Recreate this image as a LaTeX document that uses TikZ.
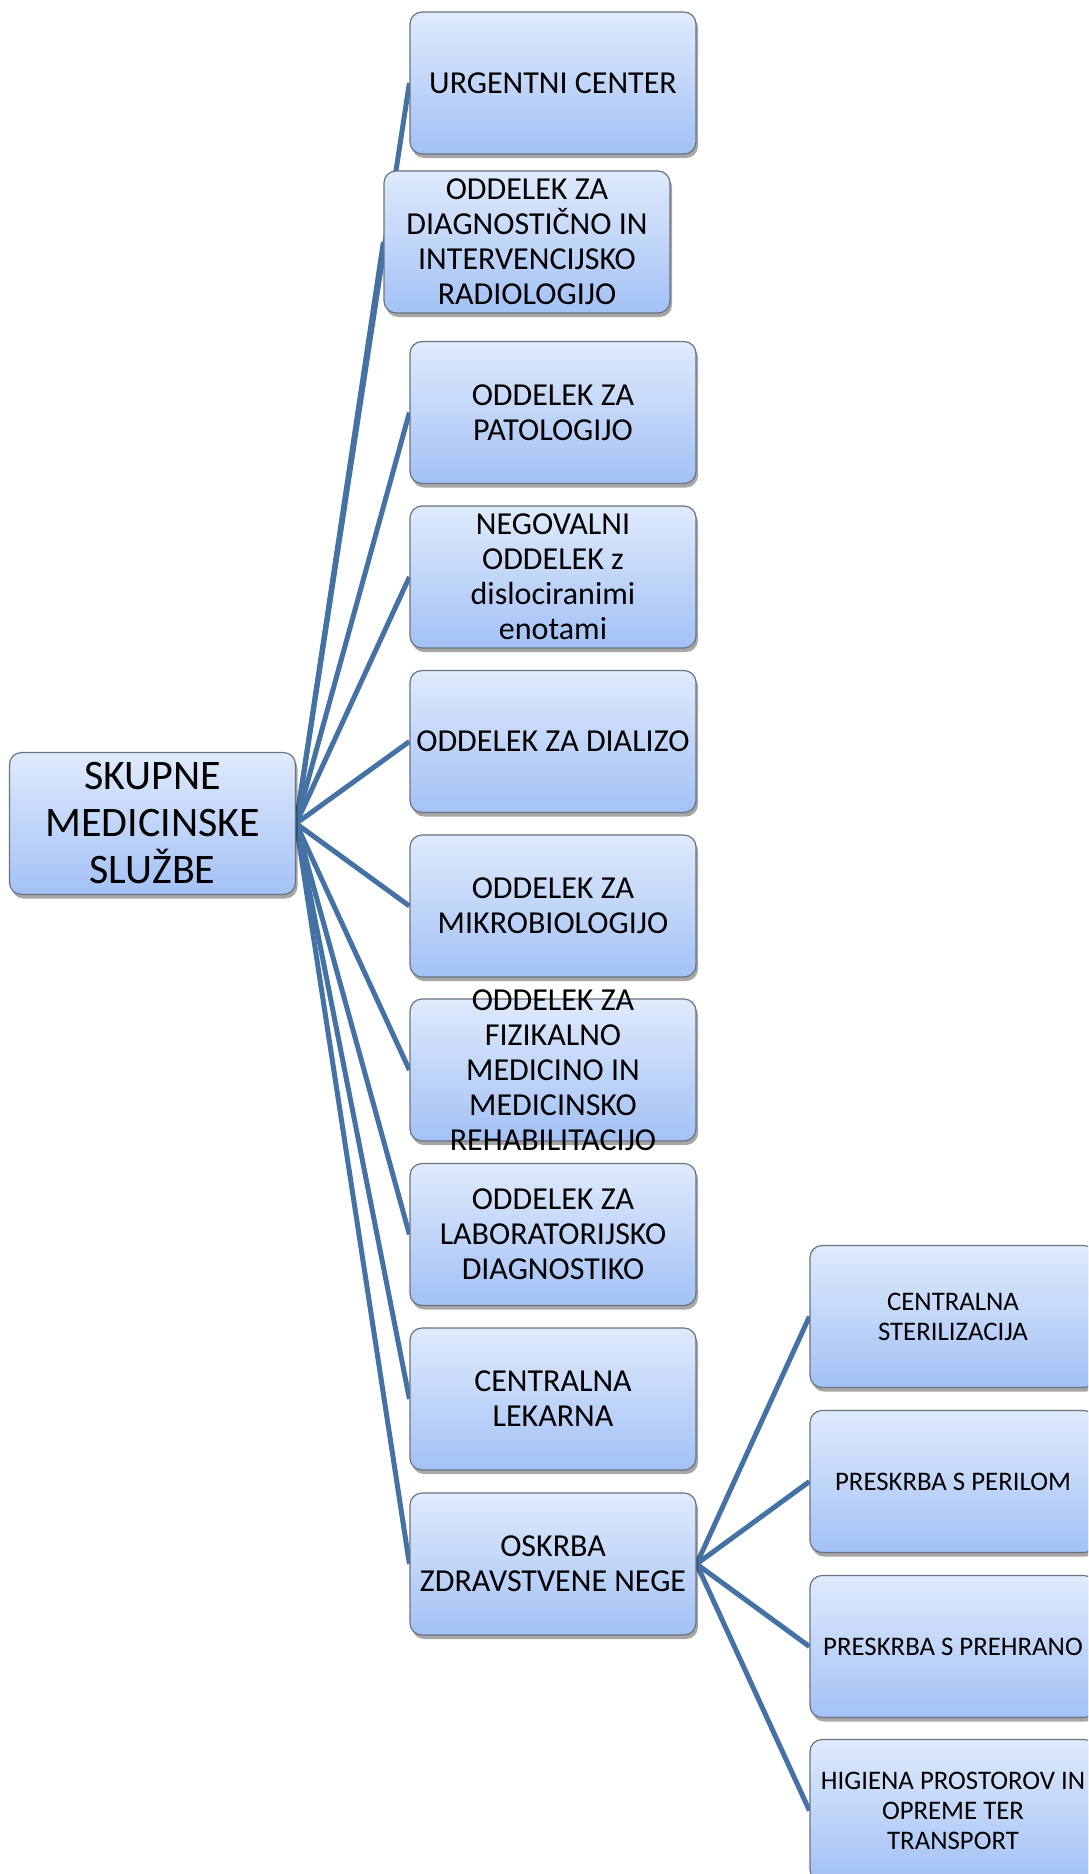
\documentclass[tikz,border=0pt]{standalone}
\usepackage{fontspec}
\setmainfont{Carlito}
\usetikzlibrary{shadows,backgrounds}
\definecolor{linec}{RGB}{68,114,164}
\definecolor{topc}{RGB}{223,234,252}
\definecolor{botc}{RGB}{163,193,246}
\definecolor{edgec}{RGB}{105,115,130}
\begin{document}
\begin{tikzpicture}[x=1pt,y=-1pt,
  box/.style={draw=edgec, line width=1.2pt, rounded corners=12pt, top color=topc, bottom color=botc,
    minimum width=286pt, minimum height=142pt, inner sep=0pt,
    drop shadow={shadow xshift=2pt,shadow yshift=-4pt,opacity=0.35,fill=black}},
  txt/.style={align=center, inner sep=0pt, font=\fontsize{32}{35}\selectfont},
  rtxt/.style={align=center, inner sep=0pt, font=\fontsize{42}{47}\selectfont},
  stxt/.style={align=center, inner sep=0pt, font=\fontsize{26.8}{30}\selectfont},
  conn/.style={draw=linec, line width=5pt}]
\useasboundingbox (0,0) rectangle (1088,1874);
\clip (0,0) rectangle (1088,1874);
% root
\node[box] (root) at (152.5,823.5) {};
\node[rtxt] (roott) at (root.center) {SKUPNE\\MEDICINSKE\\SLUŽBE};
% column
\node[box] (urg) at (553,83) {};
\node[txt] (urgt) at (urg.center) {URGENTNI CENTER};
\node[box] (diag) at (527,242) {};
\node[txt] (diagt) at (diag.center) {ODDELEK ZA\\DIAGNOSTIČNO IN\\INTERVENCIJSKO\\RADIOLOGIJO};
\node[box] (pat) at (553,412.5) {};
\node[txt] (patt) at (pat.center) {ODDELEK ZA\\PATOLOGIJO};
\node[box] (neg) at (553,577) {};
\node[txt] (negt) at (neg.center) {NEGOVALNI\\ODDELEK z\\dislociranimi\\enotami};
\node[box] (dial) at (553,741.5) {};
\node[txt] (dialt) at (dial.center) {ODDELEK ZA DIALIZO};
\node[box] (mik) at (553,906) {};
\node[txt] (mikt) at (mik.center) {ODDELEK ZA\\MIKROBIOLOGIJO};
\node[box] (fiz) at (553,1070) {};
\node[txt] (fizt) at (fiz.center) {ODDELEK ZA\\FIZIKALNO\\MEDICINO IN\\MEDICINSKO\\REHABILITACIJO};
\node[box] (lab) at (553,1234.5) {};
\node[txt] (labt) at (lab.center) {ODDELEK ZA\\LABORATORIJSKO\\DIAGNOSTIKO};
\node[box] (lek) at (553,1399) {};
\node[txt] (lekt) at (lek.center) {CENTRALNA\\LEKARNA};
\node[box] (osk) at (553,1564) {};
\node[txt] (oskt) at (osk.center) {OSKRBA\\ZDRAVSTVENE NEGE};
% right column
\node[box] (ster) at (953,1316.5) {};
\node[stxt] (stert) at (ster.center) {CENTRALNA\\STERILIZACIJA};
\node[box] (peri) at (953,1481.5) {};
\node[stxt] (perit) at (peri.center) {PRESKRBA S PERILOM};
\node[box] (preh) at (953,1646.5) {};
\node[stxt] (preht) at (preh.center) {PRESKRBA S PREHRANO};
\node[box] (hig) at (953,1810.5) {};
\node[stxt] (higt) at (hig.center) {HIGIENA PROSTOROV IN\\OPREME TER\\TRANSPORT};
\begin{scope}[on background layer]
\fill[white] (0,0) rectangle (1088,1874);
\foreach \t in {urg,diag,pat,neg,dial,mik,fiz,lab,lek,osk}
  \draw[conn] (root.east) -- (\t.west);
\foreach \t in {ster,peri,preh,hig}
  \draw[conn] (osk.east) -- (\t.west);
\end{scope}
\end{tikzpicture}
\end{document}
